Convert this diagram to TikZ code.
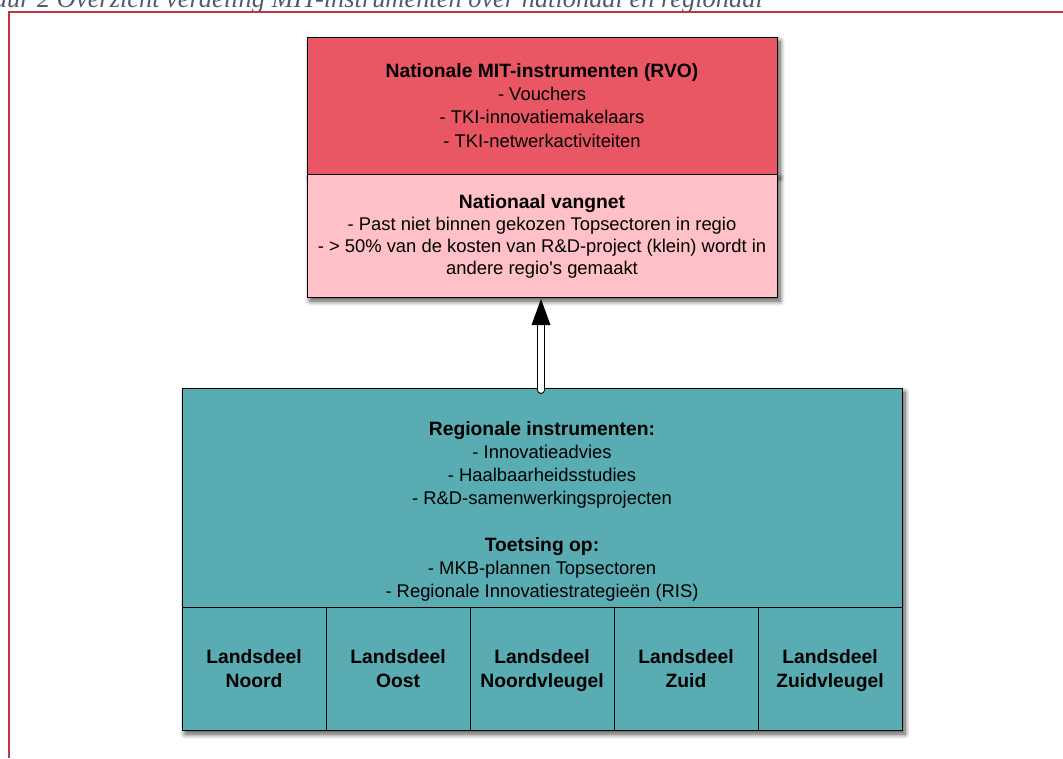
\documentclass[tikz,border=0pt]{standalone}
\usepackage{fontspec}
\setmainfont{Liberation Sans}[Ligatures=TeXOff]
\newfontfamily\titlefont{Liberation Serif}
\usetikzlibrary{shadows.blur,calc}
\definecolor{natred}{RGB}{233,87,101}
\definecolor{natpink}{RGB}{255,193,199}
\definecolor{regteal}{RGB}{88,172,178}
\definecolor{framered}{RGB}{192,54,63}
\definecolor{titlegray}{RGB}{80,90,112}
\newcommand{\hd}[1]{{\fontsize{19.3}{23}\selectfont\bfseries #1}}
\newcommand{\tst}{\rule{0pt}{\dimexpr0.7\baselineskip+4pt\relax}}
\begin{document}
\begin{tikzpicture}[x=1pt,y=-1pt,
  box/.style={draw=black, line width=1pt, inner sep=0pt, outer sep=0pt, anchor=north west, align=center,
    font=\fontsize{18.4}{23.3}\selectfont},
  shade/.style={blur shadow={shadow xshift=3pt, shadow yshift=-4pt, shadow blur steps=8,
    shadow blur radius=5pt, shadow opacity=70}},
  cell/.style={box, fill=regteal, minimum width=144pt, minimum height=123pt,
    font=\fontsize{19.3}{24}\selectfont\bfseries},
  txt/.style={align=center, inner sep=0pt, font=\fontsize{18.4}{23}\selectfont},
]
\useasboundingbox (0,0) rectangle (1063,758);

% caption (cut off at the top/left edge, as in the reference)
\node[anchor=base east, inner sep=0pt, text=titlegray,
  font=\titlefont\itshape\fontsize{26.4}{26.4}\selectfont] (title) at (763,7.5)
  {Figuur 2 Overzicht verdeling MIT-instrumenten over nationaal en regionaal};

% red frame
\coordinate (fr1) at (1063,12);
\coordinate (fr2) at (9,12);
\coordinate (fr3) at (9,758);
\draw[framered, line width=1.6pt] (fr1) -- (fr2) -- (fr3);

% top box
\node[box, fill=natred, shade, minimum width=470pt, minimum height=137pt] (nat) at (307,37)
  {\tst\hd{Nationale MIT-instrumenten (RVO)}\\- Vouchers\\- TKI-innovatiemakelaars\\- TKI-netwerkactiviteiten\strut};
\node[box, fill=natpink, shade, minimum width=470pt, minimum height=123pt,
  font=\fontsize{18.4}{22}\selectfont] (vang) at (nat.south west)
  {\tst\hd{Nationaal vangnet}\\- Past niet binnen gekozen Topsectoren in regio\\- > 50\% van de kosten van R\&D-project (klein) wordt in\\andere regio's gemaakt\strut};

% bottom box
\node[box, fill=regteal, shade, minimum width=720pt, minimum height=342pt] (reg) at (182,388) {};
\node[txt] (regtext) at ($(reg.north)+(0,122)$)
  {\tst\hd{Regionale instrumenten:}\\- Innovatieadvies\\- Haalbaarheidsstudies\\- R\&D-samenwerkingsprojecten\\[24pt]\hd{Toetsing op:}\\- MKB-plannen Topsectoren\\- Regionale Innovatiestrategieën (RIS)\strut};

\node[cell] (c1) at ($(reg.south west)+(0,-123)$) {\tst Landsdeel\\Noord\strut};
\node[cell] (c2) at (c1.north east) {\tst Landsdeel\\Oost\strut};
\node[cell] (c3) at (c2.north east) {\tst Landsdeel\\Noordvleugel\strut};
\node[cell] (c4) at (c3.north east) {\tst Landsdeel\\Zuid\strut};
\node[cell] (c5) at (c4.north east) {\tst Landsdeel\\Zuidvleugel\strut};

% arrow
\coordinate (abot) at ($(reg.north)+(-1,2)$);
\coordinate (atip) at ($(vang.south)+(-1,2)$);
\coordinate (abase) at ($(atip)+(0,24)$);
\draw[line width=8pt, line cap=round] (abot) -- (abase);
\draw[white, line width=5.6pt, line cap=round] (abot) -- (abase);
\fill (atip) -- ($(atip)+(-9.5,26)$) -- ($(atip)+(9.5,26)$) -- cycle;
\end{tikzpicture}
\end{document}
